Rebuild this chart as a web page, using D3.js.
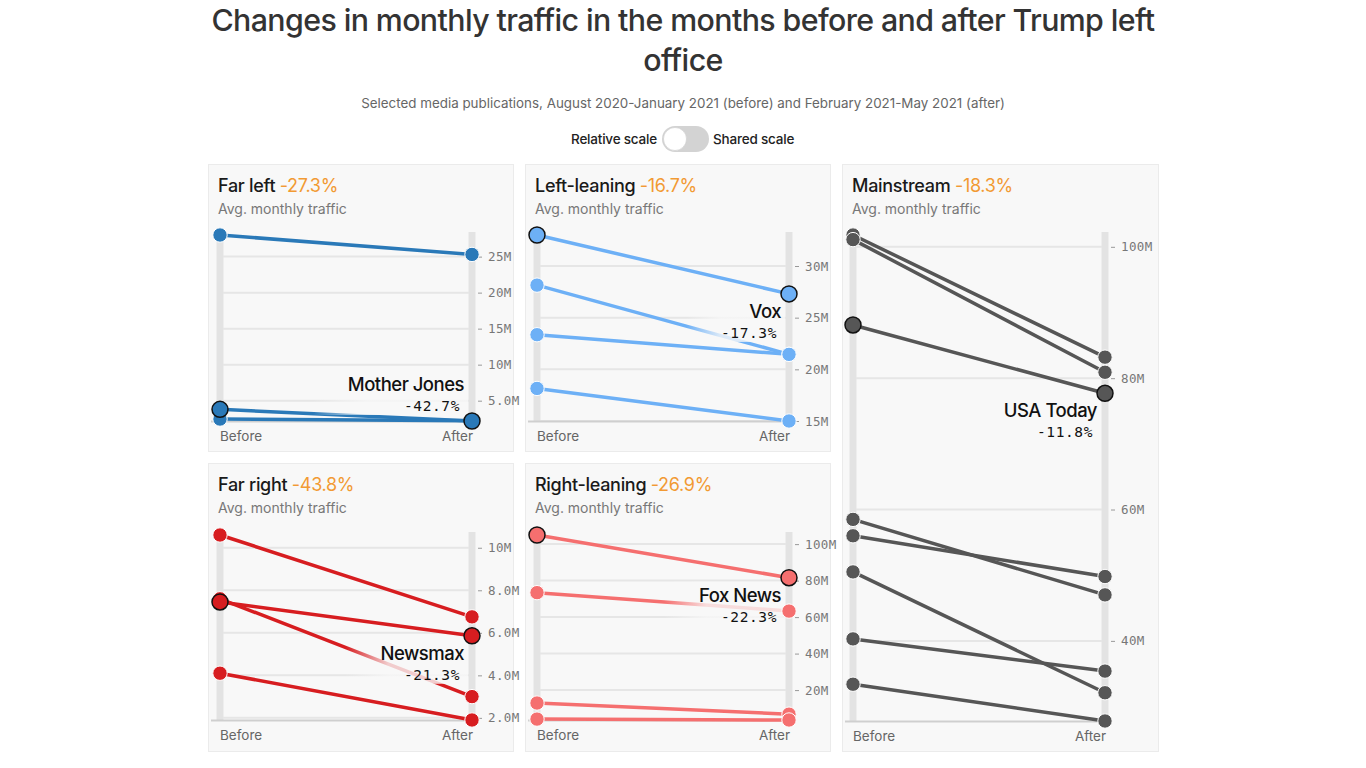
<!DOCTYPE html>
<html>
<head>
<meta charset="utf-8">
<script src="https://cdn.jsdelivr.net/npm/d3@7"></script>
<style>
  html, body { margin: 0; padding: 0; background: #ffffff; }
  svg { display: block; font-family: Inter, "Noto Sans", sans-serif; }
</style>
</head>
<body>
<svg id="chart" width="1366" height="768"></svg>
<script>
// ---------------- DATA (values in millions of monthly visits) ----------------
const titleLines = ["Changes in monthly traffic in the months before and after Trump left", "office"];
const subtitle = "Selected media publications, August 2020-January 2021 (before) and February 2021-May 2021 (after)";
const toggleLeft = "Relative scale";
const toggleRight = "Shared scale";
const periodLabels = ["Before", "After"];
const unitLabel = "Avg. monthly traffic";

const groupNames   = ["Far left", "Left-leaning", "Mainstream", "Far right", "Right-leaning"];
const groupChanges = ["-27.3%", "-16.7%", "-18.3%", "-43.8%", "-26.9%"];

const farLeftBefore      = [28.0, 3.8, 2.45];
const farLeftAfter       = [25.3, 2.18, 2.2];
const leftLeaningBefore  = [33.0, 28.15, 23.35, 18.15];
const leftLeaningAfter   = [27.3, 21.45, 21.45, 15.0];
const mainstreamBefore   = [101.8, 101.1, 88.1, 58.5, 56.0, 50.5, 40.3, 33.4];
const mainstreamAfter    = [83.2, 80.9, 77.7, 47.0, 49.8, 32.1, 35.4, 27.8];
const farRightBefore     = [10.6, 7.45, 7.6, 4.1];
const farRightAfter      = [6.75, 5.86, 3.0, 1.9];
const rightLeaningBefore = [105.0, 73.4, 12.9, 4.1];
const rightLeaningAfter  = [81.6, 63.3, 6.8, 3.6];

const highlightNames   = ["Mother Jones", "Vox", "USA Today", "Newsmax", "Fox News"];
const highlightChanges = ["-42.7%", "-17.3%", "-11.8%", "-21.3%", "-22.3%"];
const highlightIndex   = [1, 0, 2, 1, 0];

const farLeftTicks      = [5, 10, 15, 20, 25];
const leftLeaningTicks  = [15, 20, 25, 30];
const mainstreamTicks   = [40, 60, 80, 100];
const farRightTicks     = [2, 4, 6, 8, 10];
const rightLeaningTicks = [20, 40, 60, 80, 100];

const beforeSeries = [farLeftBefore, leftLeaningBefore, mainstreamBefore, farRightBefore, rightLeaningBefore];
const afterSeries  = [farLeftAfter, leftLeaningAfter, mainstreamAfter, farRightAfter, rightLeaningAfter];
const tickSeries   = [farLeftTicks, leftLeaningTicks, mainstreamTicks, farRightTicks, rightLeaningTicks];

// ---------------- STYLE / LAYOUT ----------------
const groupColors = ["#2a79b8", "#6db0f6", "#565656", "#d71d20", "#f56f6f"];
const layout = [
  {x: 208, y: 164, w: 305, h: 287, top: 235, bottom: 421, lx: 220, rx: 472},
  {x: 525, y: 164, w: 305, h: 287, top: 235, bottom: 421, lx: 537, rx: 789},
  {x: 842, y: 164, w: 316, h: 587, top: 235, bottom: 721, lx: 853, rx: 1105},
  {x: 208, y: 463, w: 305, h: 288, top: 535, bottom: 720, lx: 220, rx: 472},
  {x: 525, y: 463, w: 305, h: 288, top: 535, bottom: 720, lx: 537, rx: 789}
];
const panelBg = "#f8f8f8";
const monoFont = "'DejaVu Sans Mono', 'Liberation Mono', monospace";
const fmt = v => d3.format(".2s")(v * 1e6);

const svg = d3.select("#chart");
const defs = svg.append("defs");
const grad = defs.append("linearGradient").attr("id", "halo").attr("x1", "0").attr("x2", "1").attr("y1", "0").attr("y2", "0");
grad.append("stop").attr("offset", "0").attr("stop-color", panelBg).attr("stop-opacity", 0);
grad.append("stop").attr("offset", "0.35").attr("stop-color", panelBg).attr("stop-opacity", 0.8);
grad.append("stop").attr("offset", "1").attr("stop-color", panelBg).attr("stop-opacity", 0.8);

// ---------------- HEADER ----------------
function fitText(sel, target) {
  const len = sel.node().getComputedTextLength();
  const fs = parseFloat(sel.attr("font-size"));
  sel.attr("font-size", fs * target / len);
}
const t1 = svg.append("text").attr("x", 683).attr("y", 31).attr("text-anchor", "middle")
  .attr("font-size", 30).attr("font-weight", 500).attr("fill", "#333").attr("letter-spacing", "-0.6").text(titleLines[0]);
fitText(t1, 943);
const fsTitle = t1.attr("font-size");
svg.append("text").attr("x", 683).attr("y", 71).attr("text-anchor", "middle")
  .attr("font-size", fsTitle).attr("font-weight", 500).attr("fill", "#333").attr("letter-spacing", "-0.6").text(titleLines[1]);

const st = svg.append("text").attr("x", 683).attr("y", 108).attr("text-anchor", "middle")
  .attr("font-size", 14).attr("fill", "#666").text(subtitle);
fitText(st, 644);

svg.append("text").attr("x", 657).attr("y", 144).attr("text-anchor", "end")
  .attr("font-size", 13.5).attr("font-weight", 500).attr("fill", "#222").attr("letter-spacing", "-0.2").text(toggleLeft);
svg.append("text").attr("x", 713).attr("y", 144).attr("text-anchor", "start")
  .attr("font-size", 13.5).attr("font-weight", 500).attr("fill", "#222").attr("letter-spacing", "-0.2").text(toggleRight);
svg.append("rect").attr("x", 662).attr("y", 126).attr("width", 47).attr("height", 26).attr("rx", 13)
  .attr("fill", "#d3d3d3");
svg.append("circle").attr("cx", 675).attr("cy", 139).attr("r", 11.5).attr("fill", "#fff")
  .attr("stroke", "#c4c4c4").attr("stroke-width", 0.5);

// ---------------- PANELS ----------------
groupNames.forEach((name, i) => {
  const L = layout[i];
  const before = beforeSeries[i], after = afterSeries[i];
  const all = before.concat(after);
  const y = d3.scaleLinear().domain([d3.min(all), d3.max(all)]).range([L.bottom, L.top]);
  const x = d3.scalePoint().domain(periodLabels).range([L.lx, L.rx]);
  const color = groupColors[i];
  const g = svg.append("g");

  g.append("rect").attr("x", L.x + 0.5).attr("y", L.y + 0.5).attr("width", L.w).attr("height", L.h)
    .attr("fill", panelBg).attr("stroke", "#ebebeb").attr("stroke-width", 1);

  const head = g.append("text").attr("x", L.x + 10).attr("y", L.y + 28).attr("font-size", 18)
    .attr("font-weight", 500).attr("letter-spacing", "-0.3").attr("fill", "#1a1a1a");
  head.append("tspan").text(name + " ");
  head.append("tspan").attr("fill", "#f29a33").attr("font-weight", 400).text(groupChanges[i]);
  g.append("text").attr("x", L.x + 10).attr("y", L.y + 50).attr("font-size", 14).attr("fill", "#777").text(unitLabel);

  // vertical bars
  periodLabels.forEach(p => {
    g.append("line").attr("x1", x(p)).attr("x2", x(p)).attr("y1", L.top - 3).attr("y2", L.bottom)
      .attr("stroke", "#e3e3e3").attr("stroke-width", 7);
  });

  // gridlines + axis on right
  const ticks = tickSeries[i];
  g.selectAll(".grid").data(ticks).enter().append("line")
    .attr("x1", L.lx + 3).attr("x2", L.rx - 3)
    .attr("y1", d => y(d)).attr("y2", d => y(d))
    .attr("stroke", "#e6e6e6").attr("stroke-width", 2);
  const axis = d3.axisRight(y).tickValues(ticks).tickFormat(fmt).tickSize(4).tickPadding(6);
  const ag = g.append("g").attr("transform", `translate(${L.rx + 6},0)`).call(axis);
  ag.select(".domain").remove();
  ag.selectAll(".tick line").attr("stroke", "#999");
  ag.selectAll(".tick text").style("font-family", monoFont).style("font-size", "12.5px")
    .attr("fill", "#777").attr("letter-spacing", "0.4");

  // baseline
  g.append("line").attr("x1", L.x + 3).attr("x2", L.rx + 3).attr("y1", L.bottom + 0.5).attr("y2", L.bottom + 0.5)
    .attr("stroke", "#cfcfcf").attr("stroke-width", 2);

  // period labels
  g.append("text").attr("x", L.lx).attr("y", L.bottom + 20).attr("font-size", 13.5).attr("fill", "#666")
    .text(periodLabels[0]);
  g.append("text").attr("x", L.rx + 1).attr("y", L.bottom + 20).attr("text-anchor", "end").attr("font-size", 13.5)
    .attr("fill", "#666").text(periodLabels[1]);

  const hi = highlightIndex[i];
  const idx = d3.range(before.length).sort((a, b) => (a === hi) - (b === hi));

  // lines
  g.selectAll(".slope").data(idx).enter().append("line")
    .attr("x1", x(periodLabels[0])).attr("x2", x(periodLabels[1]))
    .attr("y1", d => y(before[d])).attr("y2", d => y(after[d]))
    .attr("stroke", color).attr("stroke-width", 3.5).attr("stroke-linecap", "round");

  // annotation
  const ay = y(after[hi]);
  const above = ay + 45 > L.bottom;
  const nameY = above ? ay - 30 : ay + 24;
  const ann = g.append("g");
  const bgRect = ann.append("rect");
  const nt = ann.append("text").attr("x", L.rx - 8).attr("y", nameY).attr("text-anchor", "end")
    .attr("font-size", 18.5).attr("font-weight", 500).attr("fill", "#111").attr("letter-spacing", "-0.5")
    .text(highlightNames[i]);
  const pt = ann.append("text").attr("x", L.rx - 12).attr("y", nameY + 20).attr("text-anchor", "end")
    .style("font-family", monoFont).style("font-size", "14.5px").attr("letter-spacing", "0.6")
    .attr("fill", "#111").text(highlightChanges[i]);
  const b1 = nt.node().getBBox(), b2 = pt.node().getBBox();
  const left = Math.min(b1.x, b2.x) - 35;
  bgRect.attr("x", left).attr("y", b1.y - 2).attr("width", L.rx - 4 - left)
    .attr("height", b2.y + b2.height - b1.y + 3).attr("fill", "url(#halo)");

  // dots
  periodLabels.forEach((p, k) => {
    const vals = k === 0 ? before : after;
    g.selectAll(".dot" + k).data(idx).enter().append("circle")
      .attr("cx", x(p)).attr("cy", d => y(vals[d]))
      .attr("r", d => d === hi ? 8 : 7.2)
      .attr("fill", color)
      .attr("stroke", d => d === hi ? "#111" : "#fff")
      .attr("stroke-width", d => d === hi ? 1.5 : 1);
  });
});
</script>
</body>
</html>
